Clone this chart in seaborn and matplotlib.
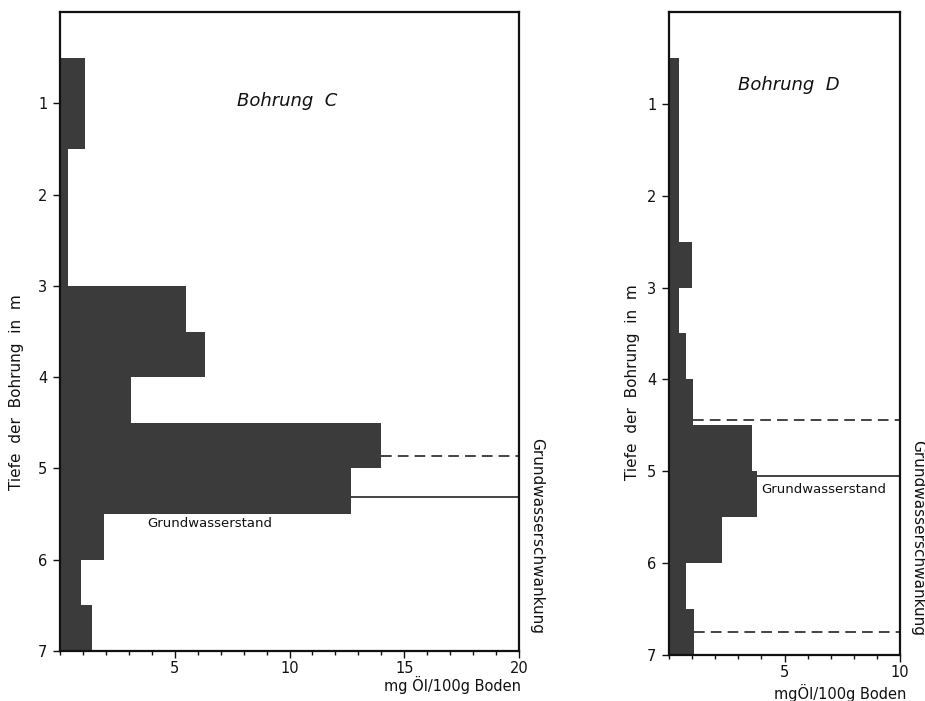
import numpy as np
import pandas as pd
import matplotlib
matplotlib.use("Agg")
import matplotlib.pyplot as plt
from matplotlib.ticker import MultipleLocator
import seaborn as sns

sns.set_theme(style="white")
plt.rcParams['font.family'] = ['DejaVu Sans']

# --- data ---
depth_mid = [0.75, 1.25, 1.75, 2.25, 2.75, 3.25, 3.75, 4.25, 4.75, 5.25, 5.75, 6.25, 6.75]
oil_C = [1.1, 1.1, 0.35, 0.35, 0.35, 5.5, 6.3, 3.1, 14.0, 12.7, 1.9, 0.9, 1.4]
oil_D = [0.45, 0.45, 0.45, 0.45, 1.0, 0.45, 0.75, 1.05, 3.6, 3.8, 2.3, 0.75, 1.1]
depth_ticks = [1, 2, 3, 4, 5, 6, 7]
# ground water lines: (depth, start value, style)
gw_C = [(4.86, 14.0, 'dashed'), (5.31, 12.7, 'solid')]
gw_D = [(4.44, 1.05, 'dashed'), (5.05, 3.8, 'solid'), (6.75, 1.1, 'dashed')]

fill = '#3b3b3b'
ink = '#111111'

fig = plt.figure(figsize=(9.25, 7.01), dpi=100)
axC = fig.add_axes([60/925, 1-651/701, 459/925, (651-12)/701])
axD = fig.add_axes([669/925, 1-655/701, 231/925, (655-12)/701])

def draw(ax, vals, xmax, title, title_pos, gw, gw_text_pos, xlabel, xlabel_pos, xlabel_ha):
    df = pd.DataFrame({'depth': depth_mid, 'oil': vals})
    sns.barplot(data=df, x='oil', y='depth', orient='h', native_scale=True,
                width=1.0, color=fill, saturation=1, linewidth=0, ax=ax)
    ax.set_ylim(7, 0)
    ax.set_xlim(0, xmax)
    ax.set_yticks(depth_ticks)
    ax.set_yticklabels([str(t) for t in depth_ticks])
    ax.xaxis.set_minor_locator(MultipleLocator(1))
    ax.set_xticks([t for t in range(5, xmax + 1, 5)])
    ax.set_xticklabels([str(t) for t in range(5, xmax + 1, 5)])
    ax.tick_params(axis='both', which='major', direction='out', length=5, width=1,
                   color=ink, labelsize=10.5, labelcolor=ink, pad=2)
    ax.tick_params(axis='x', which='minor', direction='out', length=3, width=1,
                   color=ink, bottom=True)
    ax.tick_params(axis='x', bottom=True)
    ax.tick_params(axis='y', left=True, pad=4)
    for s in ax.spines.values():
        s.set_visible(True)
        s.set_color(ink)
        s.set_linewidth(1.6)
    ax.set_xlabel('')
    ax.set_ylabel('')
    for d, x0, ls in gw:
        style = (0, (7, 4)) if ls == 'dashed' else '-'
        ax.hlines(d, x0, xmax, colors=ink, linestyles=[style], linewidth=1.1)
    ax.text(title_pos[0], title_pos[1], title, style='italic', fontsize=13,
            ha='center', va='center', color=ink)
    ax.text(gw_text_pos[0], gw_text_pos[1], 'Grundwasserstand', fontsize=9.5,
            ha='left', va='center', color=ink)
    ax.text(xlabel_pos[0], xlabel_pos[1], xlabel, transform=ax.transAxes,
            ha=xlabel_ha, va='top', fontsize=10.5, color=ink)
    ax.grid(False)

draw(axC, oil_C, 20, 'Bohrung  C', (9.9, 0.97), gw_C, (3.8, 5.6),
     'mg Öl/100g Boden', (1.005, -0.039), 'right')
draw(axD, oil_D, 10, 'Bohrung  D', (5.2, 0.8), gw_D, (4.0, 5.2),
     'mgÖl/100g Boden', (0.74, -0.045), 'center')

fig.text(17/925, 1-392/701, 'Tiefe  der  Bohrung  in  m', rotation=90,
         ha='center', va='center', fontsize=11, color=ink)
fig.text(633/925, 1-382/701, 'Tiefe  der  Bohrung  in  m', rotation=90,
         ha='center', va='center', fontsize=11, color=ink)
fig.text(537/925, 1-536/701, 'Grundwasserschwankung', rotation=-90,
         ha='center', va='center', fontsize=11, color=ink)
fig.text(918/925, 1-538/701, 'Grundwasserschwankung', rotation=-90,
         ha='center', va='center', fontsize=11, color=ink)

fig.savefig('out.png', dpi=100, facecolor='white')
